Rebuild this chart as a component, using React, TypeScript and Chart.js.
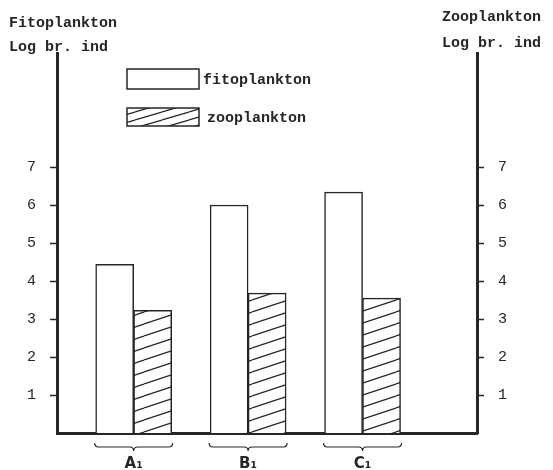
import React, { useEffect, useRef } from 'react';
import { Chart, registerables } from 'chart.js';

Chart.register(...registerables);

const categories = ['A₁', 'B₁', 'C₁'];
const categoryPositions = [1, 2, 3];
const fitoplankton = [4.44, 6.0, 6.34];
const zooplankton = [3.23, 3.68, 3.55];
const yTickValues = [1, 2, 3, 4, 5, 6, 7];
const seriesNames = ['fitoplankton', 'zooplankton'];
const leftTitle = ['Fitoplankton', 'Log br. ind'];
const rightTitle = ['Zooplankton', 'Log br. ind'];

const INK = '#262626';
const MONO = '"Liberation Mono", "DejaVu Sans Mono", monospace';

function makeHatch(w: number, h: number): CanvasPattern | string {
  const c = document.createElement('canvas');
  c.width = w;
  c.height = h;
  const g = c.getContext('2d');
  if (!g) return '#fff';
  g.fillStyle = '#fff';
  g.fillRect(0, 0, w, h);
  g.strokeStyle = INK;
  g.lineWidth = 1.2;
  for (const dy of [-h, 0, h]) {
    g.beginPath();
    g.moveTo(0, h + dy);
    g.lineTo(w, dy);
    g.stroke();
  }
  return g.createPattern(c, 'repeat') || '#fff';
}

const BAR_W = 38;

export default function App() {
  const ref = useRef<HTMLCanvasElement | null>(null);

  useEffect(() => {
    document.body.style.margin = '0';
    const canvas = ref.current;
    if (!canvas) return;
    const hatch = makeHatch(36, 12);
    const legendHatch = makeHatch(27, 8);

    const decorations = {
      id: 'decorations',
      afterDraw(chart: any) {
        const ctx = chart.ctx;
        const area = chart.chartArea;
        const x = chart.scales.x;
        ctx.save();
        ctx.fillStyle = INK;
        ctx.font = `bold 15px ${MONO}`;
        ctx.textBaseline = 'alphabetic';
        ctx.textAlign = 'left';
        ctx.fillText(leftTitle[0], 9, 27);
        ctx.fillText(leftTitle[1], 9, 51);
        ctx.fillText(rightTitle[0], 442, 21);
        ctx.fillText(rightTitle[1], 442, 47);

        const boxes = [
          { y: 69, h: 20, fill: '#fff' as any, label: seriesNames[0], tx: 203, ty: 84 },
          { y: 108, h: 18, fill: legendHatch as any, label: seriesNames[1], tx: 207, ty: 122 },
        ];
        for (const b of boxes) {
          ctx.fillStyle = b.fill;
          ctx.fillRect(127, b.y, 72, b.h);
          ctx.strokeStyle = INK;
          ctx.lineWidth = 1.5;
          ctx.strokeRect(127, b.y, 72, b.h);
          ctx.fillStyle = INK;
          ctx.font = `bold 15px ${MONO}`;
          ctx.fillText(b.label, b.tx, b.ty);
        }

        ctx.strokeStyle = INK;
        ctx.lineWidth = 1.2;
        for (const v of categoryPositions) {
          const cx = x.getPixelForValue(v);
          const l = cx - BAR_W - 1;
          const r = cx + BAR_W + 1;
          const top = area.bottom + 10;
          const mid = area.bottom + 14;
          ctx.beginPath();
          ctx.moveTo(l, top);
          ctx.quadraticCurveTo(l, mid, l + 4, mid);
          ctx.lineTo(cx - 4, mid);
          ctx.quadraticCurveTo(cx, mid, cx, mid + 4);
          ctx.quadraticCurveTo(cx, mid, cx + 4, mid);
          ctx.lineTo(r - 4, mid);
          ctx.quadraticCurveTo(r, mid, r, top);
          ctx.stroke();
        }
        ctx.restore();
      },
    };

    const yCommon = {
      min: 0,
      max: 10,
      afterBuildTicks: (s: any) => {
        s.ticks = yTickValues.map((v) => ({ value: v }));
      },
      ticks: {
        color: INK,
        font: { family: MONO, size: 15 },
        padding: 14,
      },
      grid: {
        drawOnChartArea: false,
        drawTicks: true,
        tickLength: 7,
        tickColor: INK,
        tickWidth: 1.5,
      },
      border: { display: true, color: INK, width: 3 },
    };

    const chart = new Chart(canvas, {
      type: 'bar',
      data: {
        datasets: [
          {
            label: seriesNames[0],
            data: categoryPositions.map((p, i) => ({ x: p, y: fitoplankton[i] })),
            backgroundColor: '#fff',
            borderColor: INK,
            borderWidth: 1.5,
            barThickness: BAR_W,
            yAxisID: 'y',
          },
          {
            label: seriesNames[1],
            data: categoryPositions.map((p, i) => ({ x: p, y: zooplankton[i] })),
            backgroundColor: hatch as any,
            borderColor: INK,
            borderWidth: 1.5,
            barThickness: BAR_W,
            yAxisID: 'y',
          },
        ],
      },
      options: {
        responsive: false,
        animation: false,
        layout: { padding: { top: 53, left: 0, right: 0, bottom: 0 } },
        plugins: {
          legend: { display: false },
          tooltip: { enabled: false },
          title: { display: false },
        },
        scales: {
          x: {
            type: 'linear',
            offset: false,
            min: 0.33,
            max: 4.0,
            afterBuildTicks: (s: any) => {
              s.ticks = categoryPositions.map((v) => ({ value: v }));
            },
            afterFit: (s: any) => {
              s.height = 37;
            },
            ticks: {
              color: INK,
              font: { family: '"DejaVu Sans", sans-serif', size: 15, weight: 'bold' },
              padding: 22,
              maxRotation: 0,
              callback: (v: any) => {
                const i = categoryPositions.indexOf(Number(v));
                return i >= 0 ? categories[i] : '';
              },
            },
            grid: { offset: false, drawOnChartArea: false, drawTicks: false },
            border: { display: true, color: INK, width: 3 },
          },
          y: {
            ...yCommon,
            position: 'left',
            afterFit: (s: any) => {
              s.width = 57;
            },
          },
          y2: {
            ...yCommon,
            position: 'right',
            afterFit: (s: any) => {
              s.width = 76;
            },
          },
        },
      } as any,
      plugins: [decorations],
    });

    return () => chart.destroy();
  }, []);

  return (
    <div style={{ width: 553, height: 470, background: '#fff' }}>
      <canvas ref={ref} width={553} height={470} style={{ display: 'block' }} />
    </div>
  );
}
